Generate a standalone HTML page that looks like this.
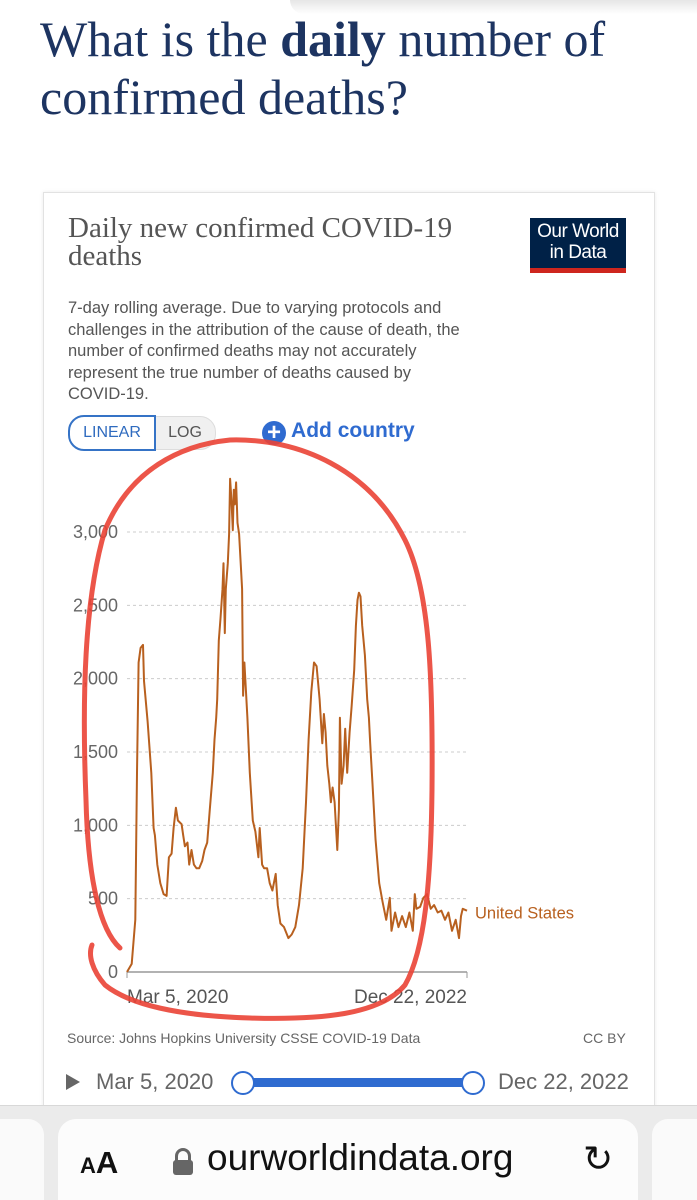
<!DOCTYPE html>
<html><head><meta charset="utf-8"><style>
html,body{margin:0;width:697px;height:1200px;overflow:hidden}
body{background:#fff;font-family:"Liberation Sans",sans-serif;position:relative}
.abs{position:absolute}
</style></head><body>
<div class="abs" style="left:290px;top:0;width:407px;height:14px;background:linear-gradient(#e6e6e6,#fff);border-radius:0 0 0 14px"></div>
<div class="abs" style="left:40px;top:10px;font-family:'Liberation Serif',serif;font-size:50px;line-height:58px;color:#1d3461;white-space:nowrap">What is the <b>daily</b> number of<br>confirmed deaths?</div>
<div class="abs" style="left:43px;top:192px;width:610px;height:930px;border:1px solid #e2e2e2;box-shadow:0 0 4px rgba(0,0,0,.08)"></div>
<div class="abs" style="left:68px;top:214px;font-family:'Liberation Serif',serif;font-size:29px;line-height:28px;color:#555;white-space:nowrap">Daily new confirmed COVID-19<br>deaths</div>
<div class="abs" style="left:68px;top:298px;font-size:16.5px;line-height:21.5px;color:#555;white-space:nowrap">7-day rolling average. Due to varying protocols and<br>challenges in the attribution of the cause of death, the<br>number of confirmed deaths may not accurately<br>represent the true number of deaths caused by<br>COVID-19.</div>
<div class="abs" style="left:530px;top:218px;width:96px;height:55px;background:#002147;color:#fff;font-size:19px;line-height:21px;text-align:center;padding-top:3px;box-sizing:border-box;border-bottom:5px solid #ce261e;letter-spacing:-0.5px">Our World<br>in Data</div>
<div class="abs" style="left:68px;top:415px;width:84px;height:32px;border:2px solid #3573c6;border-radius:16px 0 0 16px;color:#2f6bbf;font-size:16px;line-height:32px;text-align:center;z-index:2">LINEAR</div>
<div class="abs" style="left:154px;top:416px;width:60px;height:32px;border:1px solid #ddd;background:#f0f0f0;border-radius:0 16px 16px 0;color:#555;font-size:16px;line-height:32px;text-align:center">LOG</div>
<div class="abs" style="left:262px;top:418px;color:#2f6bd0;font-size:21px;line-height:26px;font-weight:bold;white-space:nowrap"><span style="display:inline-block;width:24px;height:24px;border-radius:12px;background:#2f6bd0;color:#fff;text-align:center;line-height:24px;font-size:24px;vertical-align:-3px">+</span> Add country</div>

<svg class="abs" style="left:0;top:0" width="697" height="1200" id="chart"></svg>

<div class="abs" style="left:67px;top:1030px;font-size:14px;color:#666">Source: Johns Hopkins University CSSE COVID-19 Data</div>
<div class="abs" style="left:583px;top:1030px;font-size:14px;color:#666">CC BY</div>
<div class="abs" style="left:66px;top:1074px;width:0;height:0;border-left:14px solid #666;border-top:8px solid transparent;border-bottom:8px solid transparent"></div>
<div class="abs" style="left:96px;top:1069px;font-size:22px;color:#666;white-space:nowrap">Mar 5, 2020</div>
<div class="abs" style="left:498px;top:1069px;font-size:22px;color:#666;white-space:nowrap">Dec 22, 2022</div>
<div class="abs" style="left:243px;top:1078px;width:230px;height:9px;background:#2f6bd0"></div>
<div class="abs" style="left:231px;top:1071px;width:20px;height:20px;border:2px solid #2f6bd0;border-radius:50%;background:#fff"></div>
<div class="abs" style="left:461px;top:1071px;width:20px;height:20px;border:2px solid #2f6bd0;border-radius:50%;background:#fff"></div>

<div class="abs" style="left:0;top:1105px;width:697px;height:95px;background:#ebebeb;border-top:1px solid #d8d8d8;overflow:hidden">
<div style="position:absolute;left:0;top:13px;width:44px;height:100px;background:#fafafa;border-radius:0 16px 16px 0"></div>
<div style="position:absolute;left:652px;top:13px;width:45px;height:100px;background:#fafafa;border-radius:16px 0 0 16px"></div>
<div style="position:absolute;left:58px;top:13px;width:580px;height:100px;background:#fcfcfc;border-radius:18px"></div>
</div>
<div class="abs" style="left:80px;top:1145px;font-size:31px;font-weight:bold;color:#111"><span style="font-size:22px">A</span>A</div>
<div class="abs" style="left:173px;top:1148px;width:20px;height:26px">
<div style="position:absolute;left:2px;top:0;width:10px;height:12px;border:3px solid #666;border-bottom:none;border-radius:8px 8px 0 0"></div>
<div style="position:absolute;left:0;top:12px;width:20px;height:15px;background:#666;border-radius:3px"></div></div>
<div class="abs" style="left:207px;top:1137px;font-size:37px;color:#111;white-space:nowrap">ourworldindata.org</div>
<div class="abs" style="left:583px;top:1138px;font-size:36px;color:#111">↻</div>

<script>
const dayOffsets=[0,14,25,30,35,41,48,51,62,73,80,84,91,100,110,119,126,134,140,147,153,164,169,174,182,187,194,201,209,217,226,233,241,249,258,263,268,271,276,281,287,290,294,297,303,307,310,314,318,321,324,328,332,337,346,349,353,356,362,369,378,386,395,399,406,412,421,429,437,447,453,461,472,485,495,506,517,528,538,546,554,562,570,579,587,592,597,602,608,613,618,624,632,637,640,645,651,656,662,669,675,683,688,693,697,702,707,715,722,727,731,738,747,758,768,779,790,795,806,816,827,838,849,859,865,870,881,891,902,913,923,934,945,956,966,977,988,998,1004,1009,1022];
const deaths=[0,55,356,1358,2110,2210,2230,1985,1709,1358,982,932,732,606,531,519,782,807,982,1120,1033,1008,932,857,882,732,832,732,707,707,757,832,882,1108,1358,1584,1734,1859,2260,2411,2611,2787,2311,2611,2787,2987,3363,3213,3012,3288,3188,3338,3062,2987,2611,1884,2110,1985,1734,1358,1033,957,782,982,732,707,707,606,556,669,456,331,306,231,256,306,456,707,1158,1584,1910,2110,2085,1859,1559,1759,1634,1408,1283,1158,1258,1158,832,1108,1734,1283,1408,1659,1358,1634,1809,2060,2361,2536,2586,2561,2361,2160,1859,1734,1559,1283,907,606,481,356,506,281,406,306,381,306,406,281,531,431,444,506,531,431,456,406,418,356,406,281,356,231,381,431,418];
const yTicks=[0,500,1000,1500,2000,2500,3000];
const yTickLabels=["0","500","1,000","1,500","2,000","2,500","3,000"];
const xTickLabels=["Mar 5, 2020","Dec 22, 2022"];
const seriesName="United States";

const svg=document.getElementById('chart');const NS='http://www.w3.org/2000/svg';
const X0=127,X1=467,Y0=972,Y3000=532,maxDay=1022;
const xs=d=>X0+(X1-X0)*d/maxDay;
const ys=v=>Y0-(Y0-Y3000)*v/3000;
function mk(tag,attrs){const e=document.createElementNS(NS,tag);for(const k in attrs)e.setAttribute(k,attrs[k]);svg.appendChild(e);return e;}
yTicks.forEach((t,i)=>{
  if(t>0){const g=mk('line',{x1:X0,x2:X1,y1:ys(t),y2:ys(t),stroke:'#ccc','stroke-dasharray':'3,3'});
  
  }
  const l=mk('text',{x:118,y:ys(t)+6,'text-anchor':'end','font-size':'18',fill:'#666','font-family':'Liberation Sans, sans-serif'});
  l.textContent=yTickLabels[i];
  
  
});
const ax=mk('line',{x1:X0,x2:X1,y1:Y0,y2:Y0,stroke:'#999','stroke-width':1.5});


[X0,X1].forEach(x=>{const t=mk('line',{x1:x,x2:x,y1:Y0,y2:Y0+6,stroke:'#999'});

});
xTickLabels.forEach((s,i)=>{const t=mk('text',{x:i?X1:X0,y:1003,'text-anchor':i?'end':'start','font-size':'19',fill:'#555','font-family':'Liberation Sans, sans-serif'});t.textContent=s;

});
const pts=dayOffsets.map((d,i)=>xs(d).toFixed(1)+','+ys(deaths[i]).toFixed(1)).join(' ');
const line=mk('polyline',{points:pts,fill:'none',stroke:'#b8601f','stroke-width':2,'stroke-linejoin':'round'});


const lbl=mk('text',{x:475,y:ys(deaths[deaths.length-1])+8,'font-size':'16.5',fill:'#b8601f','font-family':'Liberation Sans, sans-serif'});
lbl.textContent=seriesName;


const circ=mk('path',{d:'M120,948 C100,930 88,880 86,800 C82,700 84,600 105,530 C130,470 180,445 230,440 C300,438 370,470 405,540 C430,590 433,680 432,790 C431,880 425,950 405,985 C380,1015 320,1020 250,1018 C180,1016 130,1005 105,985 C92,970 88,955 92,945',fill:'none',stroke:'#ea4335','stroke-width':5,'stroke-linecap':'round',opacity:0.9});


</script>
</body></html>
